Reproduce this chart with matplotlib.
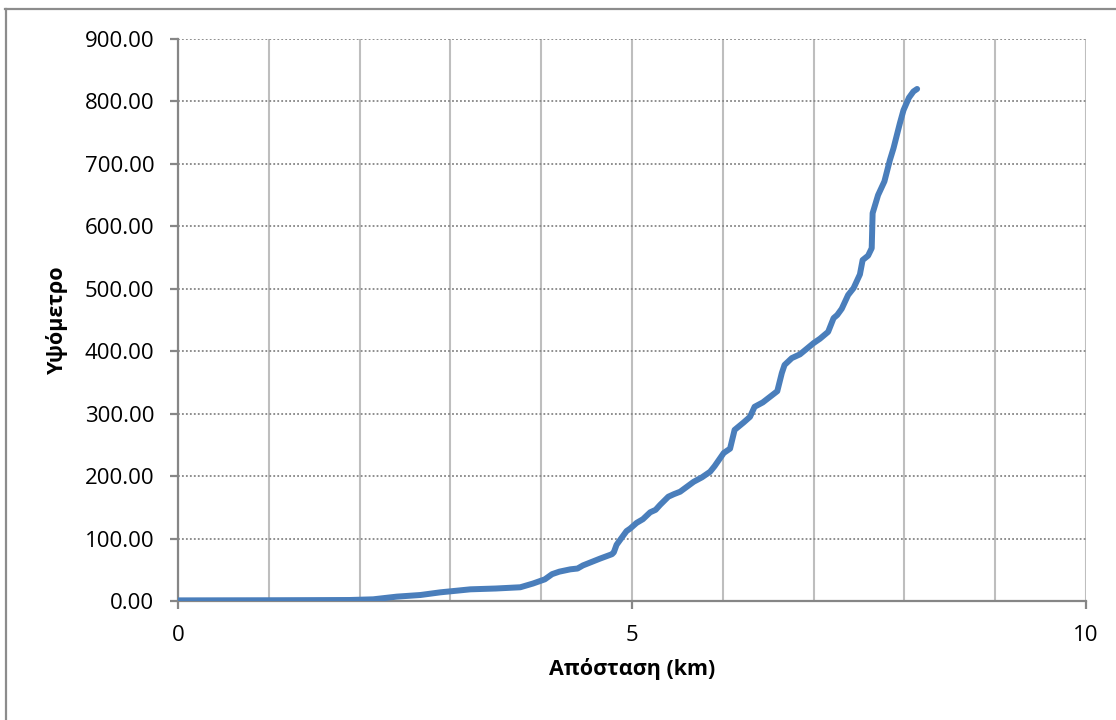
import matplotlib
matplotlib.use("Agg")
import matplotlib.pyplot as plt
from matplotlib.lines import Line2D
from matplotlib.ticker import MultipleLocator, FormatStrFormatter

plt.rcParams['font.family'] = ['Open Sans', 'DejaVu Sans']

distance_km = [0, 0.5, 1.0, 1.5, 1.89, 2.15, 2.41, 2.67, 2.89, 3.07,
               3.22, 3.5, 3.77, 3.91, 4.04, 4.12, 4.20, 4.32, 4.40, 4.46,
               4.65, 4.78, 4.80, 4.83, 4.94, 4.98, 5.05, 5.12, 5.2, 5.26,
               5.31, 5.40, 5.46, 5.53, 5.68, 5.77, 5.86, 5.91,
               6.01, 6.08, 6.13, 6.23, 6.30, 6.35, 6.44, 6.52, 6.60, 6.65,
               6.68, 6.76, 6.85, 7.0, 7.07, 7.16, 7.22, 7.26, 7.31, 7.38,
               7.44, 7.51, 7.54, 7.60, 7.64, 7.65, 7.71, 7.78, 7.84, 7.88,
               7.95, 7.99, 8.05, 8.10, 8.14]
elevation = [1.0, 1.1, 1.2, 1.4, 1.6, 2.7, 7.0, 9.6, 13.9, 16.5,
             18.7, 20, 22, 28, 34.7, 43, 47, 50.7, 52, 57,
             68, 75, 78, 90, 112, 116, 125, 131, 142, 146,
             154, 167, 171, 175, 191, 198, 207, 216,
             237, 244, 274, 286, 295, 311, 318, 327, 336, 365,
             378, 389, 395, 413, 420, 431, 453, 458, 468, 490,
             501, 523, 546, 553, 565, 621, 650, 672, 706, 725,
             765, 786, 806, 816, 820]

x_label = "Απόσταση (km)"
y_label = "Υψόμετρο"

W, H = 1116, 720
fig = plt.figure(figsize=(W / 100, H / 100), dpi=100)
ax = fig.add_axes([178 / W, 1 - 601 / H, (1086 - 178) / W, (601 - 39) / H])

axis_gray = '#868686'
grid_gray = '#BEBEBE'

ax.plot(distance_km, elevation, color='#4A7EBB', lw=4.3,
        solid_capstyle='round', solid_joinstyle='round', zorder=5)

ax.set_xlim(0, 10)
ax.set_ylim(0, 900)
ax.xaxis.set_major_locator(MultipleLocator(5))
ax.xaxis.set_minor_locator(MultipleLocator(1))
ax.yaxis.set_major_locator(MultipleLocator(100))
ax.yaxis.set_major_formatter(FormatStrFormatter('%.2f'))

ax.grid(True, axis='x', which='both', color=grid_gray, lw=1.5, ls='-')
ax.grid(True, axis='y', which='major', color=axis_gray, lw=1.3, ls=(0, (1, 1.2)))
ax.set_axisbelow(True)

for s in ['top', 'right']:
    ax.spines[s].set_visible(False)
for s in ['left', 'bottom']:
    ax.spines[s].set_color(axis_gray)
    ax.spines[s].set_linewidth(1.6)
    ax.spines[s].set_zorder(4)

ax.tick_params(axis='y', which='major', direction='out', length=6, width=1.6,
               color=axis_gray, labelsize=16, labelcolor='black', pad=11)
ax.tick_params(axis='x', which='major', direction='out', length=6, width=1.6,
               color=axis_gray, labelsize=16, labelcolor='black', pad=11)
ax.tick_params(axis='x', which='minor', length=0)

ax.set_xlabel(x_label, fontsize=15.5, fontweight='bold', labelpad=9)
ax.set_ylabel(y_label, fontsize=15.5, fontweight='bold', labelpad=12)

# outer chart frame (left and top visible)
fig.add_artist(Line2D([5.5 / W, 5.5 / W], [0, 1 - 9 / H], transform=fig.transFigure,
                      color='#8C8C8C', lw=1.6))
fig.add_artist(Line2D([5 / W, 1], [1 - 9 / H, 1 - 9 / H], transform=fig.transFigure,
                      color='#8C8C8C', lw=1.6))

fig.savefig('out.png', dpi=100)
